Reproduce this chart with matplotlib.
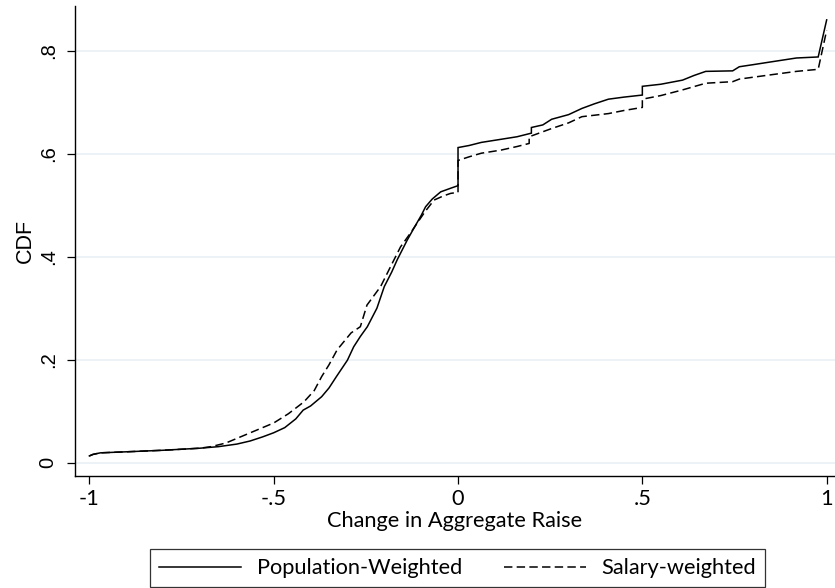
import matplotlib
matplotlib.use("Agg")
import matplotlib.pyplot as plt
from matplotlib.lines import Line2D

# ---- data ----
pop_x = [-1.0, -0.99, -0.97, -0.9, -0.8, -0.7, -0.65, -0.6, -0.564, -0.53, -0.5, -0.47,
         -0.44, -0.42, -0.40, -0.37, -0.35, -0.33, -0.30, -0.283, -0.265, -0.246, -0.22,
         -0.20, -0.18, -0.165, -0.138, -0.12, -0.10, -0.088, -0.07, -0.047, -0.02, 0.0,
         0.0, 0.03, 0.063, 0.116, 0.16, 0.199, 0.199, 0.23, 0.254, 0.30, 0.336, 0.37,
         0.408, 0.45, 0.50, 0.50, 0.55, 0.609, 0.64, 0.672, 0.745, 0.763, 0.80, 0.845,
         0.918, 0.977, 1.0]
pop_y = [0.013, 0.016, 0.019, 0.021, 0.024, 0.028, 0.031, 0.036, 0.042, 0.050, 0.058, 0.068,
         0.085, 0.102, 0.110, 0.128, 0.145, 0.167, 0.199, 0.225, 0.245, 0.264, 0.300,
         0.342, 0.370, 0.394, 0.432, 0.455, 0.480, 0.497, 0.512, 0.526, 0.533, 0.538,
         0.612, 0.616, 0.622, 0.628, 0.633, 0.640, 0.651, 0.656, 0.667, 0.676, 0.688, 0.697,
         0.706, 0.710, 0.714, 0.731, 0.735, 0.743, 0.752, 0.760, 0.761, 0.769, 0.773, 0.778,
         0.786, 0.788, 0.860]

sal_x = [-1.0, -0.99, -0.97, -0.9, -0.8, -0.7, -0.67, -0.63, -0.59, -0.55, -0.5, -0.46,
         -0.418, -0.39, -0.37, -0.35, -0.328, -0.29, -0.265, -0.247, -0.21, -0.18, -0.156,
         -0.13, -0.111, -0.09, -0.065, -0.04, -0.02, 0.0, 0.0, 0.03, 0.063, 0.116, 0.16,
         0.193, 0.193, 0.254, 0.30, 0.336, 0.408, 0.45, 0.50, 0.50, 0.55, 0.609, 0.672,
         0.745, 0.763, 0.845, 0.918, 0.977, 1.0]
sal_y = [0.013, 0.016, 0.019, 0.021, 0.024, 0.028, 0.031, 0.038, 0.050, 0.062, 0.077, 0.095,
         0.118, 0.140, 0.167, 0.190, 0.219, 0.252, 0.264, 0.306, 0.342, 0.385, 0.419,
         0.445, 0.465, 0.487, 0.510, 0.518, 0.523, 0.525, 0.587, 0.594, 0.601, 0.607, 0.614,
         0.620, 0.633, 0.649, 0.660, 0.672, 0.678, 0.684, 0.690, 0.706, 0.713, 0.724, 0.737,
         0.740, 0.745, 0.753, 0.760, 0.764, 0.840]

x_ticks = [-1, -0.5, 0, 0.5, 1]
x_tick_labels = ["-1", "-.5", "0", ".5", "1"]
y_ticks = [0, 0.2, 0.4, 0.6, 0.8]
y_tick_labels = ["0", ".2", ".4", ".6", ".8"]
series_labels = ["Population-Weighted", "Salary-weighted"]

# ---- figure ----
W, H = 835, 588
fig = plt.figure(figsize=(W / 100, H / 100), dpi=100)
ax = fig.add_axes([75 / W, 1 - 476 / H, (835 - 75) / W, (476 - 6) / H])

lato = "Lato"
arial = "Liberation Sans"
fs = 15.7
fsy = 14.5

ax.plot(pop_x, pop_y, color="black", lw=1.1, solid_joinstyle="miter")
ax.plot(sal_x, sal_y, color="black", lw=1.1, linestyle=(0, (5.5, 2.8)))

ax.set_xlim(-1.039, 1.0226)
ax.set_ylim(-0.026, 0.887)

for s in ["top", "right"]:
    ax.spines[s].set_visible(False)
for s in ["left", "bottom"]:
    ax.spines[s].set_linewidth(1.0)
    ax.spines[s].set_color("black")

ax.set_yticks(y_ticks)
ax.set_yticklabels(y_tick_labels, rotation=90, va="center", family=arial, fontsize=fsy)
ax.set_xticks(x_ticks)
ax.set_xticklabels(x_tick_labels, family=lato, fontsize=fs)
ax.tick_params(axis="both", direction="out", length=6, width=0.9, color="black")
ax.tick_params(axis="y", pad=6.5)
ax.tick_params(axis="x", pad=3.5)

ax.yaxis.grid(True, color="#e9f0f3", lw=1.2)
ax.xaxis.grid(False)
ax.set_axisbelow(True)

ax.set_xlabel("Change in Aggregate Raise", family=lato, fontsize=fs, labelpad=1)
ax.set_ylabel("CDF", family=arial, fontsize=15.5)
ax.yaxis.set_label_coords(-0.051, 0.5)

handles = [Line2D([], [], color="black", lw=1.1),
           Line2D([], [], color="black", lw=1.1, linestyle=(0, (5.5, 2.8)))]
leg = fig.legend(handles, series_labels, loc="upper center", ncol=2,
                 bbox_to_anchor=(457.5 / W, 1 - 549 / H),
                 prop={"family": lato, "size": fs}, frameon=True, fancybox=False,
                 edgecolor="black", handlelength=3.76, handletextpad=0.69,
                 columnspacing=1.93, borderpad=0.42, borderaxespad=0)
leg.get_frame().set_linewidth(0.9)

fig.savefig("out.png", dpi=100, facecolor="white")
